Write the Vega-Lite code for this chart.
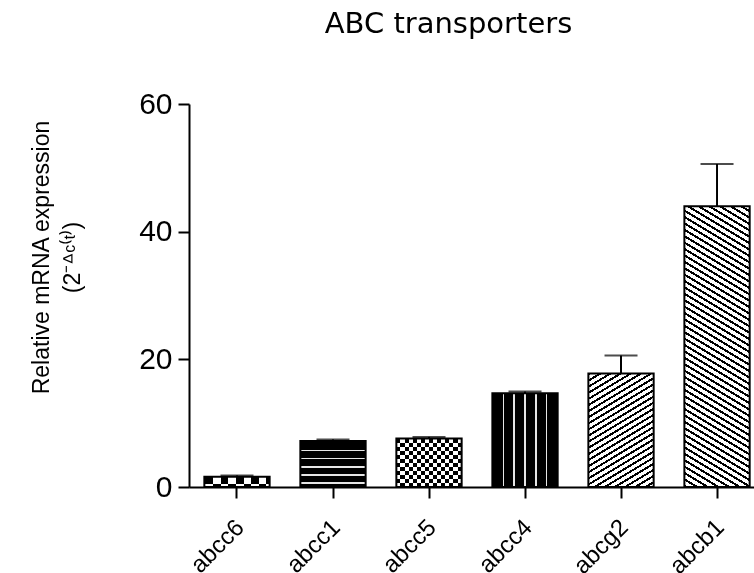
{
  "$schema": "https://vega.github.io/schema/vega-lite/v6.json",
  "autosize": "none",
  "width": 565,
  "height": 383,
  "padding": {"left": 189, "top": 104, "right": 0, "bottom": 86},
  "background": "white",
  "title": {
    "text": "ABC transporters",
    "font": "DejaVu Sans",
    "fontSize": 29,
    "fontWeight": "normal",
    "color": "#000",
    "anchor": "middle",
    "frame": "group",
    "dx": -23,
    "offset": 50
  },
  "config": {
    "view": {"stroke": null},
    "axis": {
      "domainColor": "#000",
      "domainWidth": 2,
      "tickColor": "#000",
      "tickWidth": 2,
      "tickSize": 11,
      "labelColor": "#000",
      "labelFont": "Liberation Sans",
      "titleFont": "Liberation Sans",
      "titleColor": "#000",
      "grid": false
    }
  },
  "data": {
    "values": [
      {"gene": "abcc6", "value": 1.6, "upper": 1.8},
      {"gene": "abcc1", "value": 7.2, "upper": 7.45},
      {"gene": "abcc5", "value": 7.6, "upper": 7.85},
      {"gene": "abcc4", "value": 14.7, "upper": 14.95},
      {"gene": "abcg2", "value": 17.8, "upper": 20.6},
      {"gene": "abcb1", "value": 44.0, "upper": 50.6}
    ]
  },
  "encoding": {
    "x": {
      "field": "gene",
      "type": "nominal",
      "sort": null,
      "scale": {"domain": ["abcc6", "abcc1", "abcc5", "abcc4", "abcg2", "abcb1"], "paddingInner": 0.32, "paddingOuter": 0.1025, "align": 0.78},
      "axis": {"title": null, "labelAngle": -45, "labelFontSize": 24, "labelPadding": 17, "labelOffset": -5}
    },
    "y": {
      "field": "value",
      "type": "quantitative",
      "scale": {"domain": [0, 60], "nice": false},
      "axis": {
        "values": [0, 20, 40, 60],
        "labelFontSize": 30,
        "labelPadding": 6,
        "title": ["Relative mRNA expression", "(2⁻ᐞᶜ⁽ᵗ⁾)"],
        "titleFontSize": 23,
        "titleFontWeight": "normal",
        "titleLineHeight": 31,
        "titleAngle": -90,
        "titleAlign": "center",
        "titleBaseline": "middle",
        "titleX": -148,
        "titleY": 153
      }
    }
  },
  "layer": [
    {
      "transform": [{"filter": "datum.gene === 'abcc6'"}],
      "mark": {"type": "bar", "strokeWidth": 0, "fill": {"gradient": "linear", "x1": 0, "y1": 0, "x2": 1, "y2": 0, "stops": [
        {"offset": 0, "color": "#000"}, {"offset": 0.136, "color": "#000"}, {"offset": 0.136, "color": "#fff"}, {"offset": 0.252, "color": "#fff"},
        {"offset": 0.252, "color": "#000"}, {"offset": 0.368, "color": "#000"}, {"offset": 0.368, "color": "#fff"}, {"offset": 0.484, "color": "#fff"},
        {"offset": 0.484, "color": "#000"}, {"offset": 0.6, "color": "#000"}, {"offset": 0.6, "color": "#fff"}, {"offset": 0.716, "color": "#fff"},
        {"offset": 0.716, "color": "#000"}, {"offset": 0.832, "color": "#000"}, {"offset": 0.832, "color": "#fff"}, {"offset": 0.948, "color": "#fff"},
        {"offset": 0.948, "color": "#000"}, {"offset": 1, "color": "#000"}
      ]}}
    },
    {
      "transform": [{"filter": "datum.gene === 'abcc6'"}],
      "mark": {"type": "bar", "strokeWidth": 0, "blend": "difference", "fill": {"gradient": "linear", "x1": 0, "y1": 0, "x2": 0, "y2": 1, "stops": [
        {"offset": 0, "color": "#000"}, {"offset": 0.75, "color": "#000"}, {"offset": 0.75, "color": "#fff"}, {"offset": 1, "color": "#fff"}
      ]}}
    },
    {
      "transform": [{"filter": "datum.gene === 'abcc5'"}],
      "mark": {"type": "bar", "strokeWidth": 0, "fill": {"gradient": "linear", "x1": 0, "y1": 0, "x2": 1, "y2": 0, "stops": [
        {"offset": 0, "color": "#000"}, {"offset": 0.0625, "color": "#000"}, {"offset": 0.0625, "color": "#fff"}, {"offset": 0.125, "color": "#fff"},
        {"offset": 0.125, "color": "#000"}, {"offset": 0.1875, "color": "#000"}, {"offset": 0.1875, "color": "#fff"}, {"offset": 0.25, "color": "#fff"},
        {"offset": 0.25, "color": "#000"}, {"offset": 0.3125, "color": "#000"}, {"offset": 0.3125, "color": "#fff"}, {"offset": 0.375, "color": "#fff"},
        {"offset": 0.375, "color": "#000"}, {"offset": 0.4375, "color": "#000"}, {"offset": 0.4375, "color": "#fff"}, {"offset": 0.5, "color": "#fff"},
        {"offset": 0.5, "color": "#000"}, {"offset": 0.5625, "color": "#000"}, {"offset": 0.5625, "color": "#fff"}, {"offset": 0.625, "color": "#fff"},
        {"offset": 0.625, "color": "#000"}, {"offset": 0.6875, "color": "#000"}, {"offset": 0.6875, "color": "#fff"}, {"offset": 0.75, "color": "#fff"},
        {"offset": 0.75, "color": "#000"}, {"offset": 0.8125, "color": "#000"}, {"offset": 0.8125, "color": "#fff"}, {"offset": 0.875, "color": "#fff"},
        {"offset": 0.875, "color": "#000"}, {"offset": 0.9375, "color": "#000"}, {"offset": 0.9375, "color": "#fff"}, {"offset": 1, "color": "#fff"}
      ]}}
    },
    {
      "transform": [{"filter": "datum.gene === 'abcc5'"}],
      "mark": {"type": "bar", "strokeWidth": 0, "blend": "difference", "fill": {"gradient": "linear", "x1": 0, "y1": 0, "x2": 0, "y2": 1, "stops": [
        {"offset": 0, "color": "#000"}, {"offset": 0.0833, "color": "#000"}, {"offset": 0.0833, "color": "#fff"}, {"offset": 0.1667, "color": "#fff"},
        {"offset": 0.1667, "color": "#000"}, {"offset": 0.25, "color": "#000"}, {"offset": 0.25, "color": "#fff"}, {"offset": 0.3333, "color": "#fff"},
        {"offset": 0.3333, "color": "#000"}, {"offset": 0.4167, "color": "#000"}, {"offset": 0.4167, "color": "#fff"}, {"offset": 0.5, "color": "#fff"},
        {"offset": 0.5, "color": "#000"}, {"offset": 0.5833, "color": "#000"}, {"offset": 0.5833, "color": "#fff"}, {"offset": 0.6667, "color": "#fff"},
        {"offset": 0.6667, "color": "#000"}, {"offset": 0.75, "color": "#000"}, {"offset": 0.75, "color": "#fff"}, {"offset": 0.8333, "color": "#fff"},
        {"offset": 0.8333, "color": "#000"}, {"offset": 0.9167, "color": "#000"}, {"offset": 0.9167, "color": "#fff"}, {"offset": 1, "color": "#fff"}
      ]}}
    },
    {
      "transform": [{"filter": "datum.gene === 'abcc1'"}],
      "mark": {"type": "bar", "strokeWidth": 0, "fill": {"gradient": "linear", "x1": 0, "y1": 0, "x2": 0, "y2": 1, "stops": [
        {"offset": 0, "color": "#000"}, {"offset": 0.188, "color": "#000"}, {"offset": 0.188, "color": "#e6e6e6"}, {"offset": 0.218, "color": "#e6e6e6"},
        {"offset": 0.218, "color": "#000"}, {"offset": 0.362, "color": "#000"}, {"offset": 0.362, "color": "#e6e6e6"}, {"offset": 0.392, "color": "#e6e6e6"},
        {"offset": 0.392, "color": "#000"}, {"offset": 0.55, "color": "#000"}, {"offset": 0.55, "color": "#e6e6e6"}, {"offset": 0.58, "color": "#e6e6e6"},
        {"offset": 0.58, "color": "#000"}, {"offset": 0.724, "color": "#000"}, {"offset": 0.724, "color": "#e6e6e6"}, {"offset": 0.754, "color": "#e6e6e6"},
        {"offset": 0.754, "color": "#000"}, {"offset": 0.898, "color": "#000"}, {"offset": 0.898, "color": "#e6e6e6"}, {"offset": 0.928, "color": "#e6e6e6"},
        {"offset": 0.928, "color": "#000"}, {"offset": 1, "color": "#000"}
      ]}}
    },
    {
      "transform": [{"filter": "datum.gene === 'abcc4'"}],
      "mark": {"type": "bar", "strokeWidth": 0, "fill": {"gradient": "linear", "x1": 0, "y1": 0, "x2": 1, "y2": 0, "stops": [
        {"offset": 0, "color": "#000"}, {"offset": 0.157, "color": "#000"}, {"offset": 0.157, "color": "#e6e6e6"}, {"offset": 0.183, "color": "#e6e6e6"},
        {"offset": 0.183, "color": "#000"}, {"offset": 0.317, "color": "#000"}, {"offset": 0.317, "color": "#e6e6e6"}, {"offset": 0.343, "color": "#e6e6e6"},
        {"offset": 0.343, "color": "#000"}, {"offset": 0.487, "color": "#000"}, {"offset": 0.487, "color": "#e6e6e6"}, {"offset": 0.513, "color": "#e6e6e6"},
        {"offset": 0.513, "color": "#000"}, {"offset": 0.657, "color": "#000"}, {"offset": 0.657, "color": "#e6e6e6"}, {"offset": 0.683, "color": "#e6e6e6"},
        {"offset": 0.683, "color": "#000"}, {"offset": 0.817, "color": "#000"}, {"offset": 0.817, "color": "#e6e6e6"}, {"offset": 0.843, "color": "#e6e6e6"},
        {"offset": 0.843, "color": "#000"}, {"offset": 1, "color": "#000"}
      ]}}
    },
    {
      "transform": [{"filter": "datum.gene === 'abcg2'"}],
      "mark": {"type": "bar", "strokeWidth": 0, "fill": {"gradient": "linear", "x1": 0, "y1": 0, "x2": 0.4149, "y2": 1.2019, "stops": [
        {"offset": 0, "color": "#000"}, {"offset": 0.0152, "color": "#000"}, {"offset": 0.0152, "color": "#fff"}, {"offset": 0.04, "color": "#fff"},
        {"offset": 0.04, "color": "#000"}, {"offset": 0.0552, "color": "#000"}, {"offset": 0.0552, "color": "#fff"}, {"offset": 0.08, "color": "#fff"},
        {"offset": 0.08, "color": "#000"}, {"offset": 0.0952, "color": "#000"}, {"offset": 0.0952, "color": "#fff"}, {"offset": 0.12, "color": "#fff"},
        {"offset": 0.12, "color": "#000"}, {"offset": 0.1352, "color": "#000"}, {"offset": 0.1352, "color": "#fff"}, {"offset": 0.16, "color": "#fff"},
        {"offset": 0.16, "color": "#000"}, {"offset": 0.1752, "color": "#000"}, {"offset": 0.1752, "color": "#fff"}, {"offset": 0.2, "color": "#fff"},
        {"offset": 0.2, "color": "#000"}, {"offset": 0.2152, "color": "#000"}, {"offset": 0.2152, "color": "#fff"}, {"offset": 0.24, "color": "#fff"},
        {"offset": 0.24, "color": "#000"}, {"offset": 0.2552, "color": "#000"}, {"offset": 0.2552, "color": "#fff"}, {"offset": 0.28, "color": "#fff"},
        {"offset": 0.28, "color": "#000"}, {"offset": 0.2952, "color": "#000"}, {"offset": 0.2952, "color": "#fff"}, {"offset": 0.32, "color": "#fff"},
        {"offset": 0.32, "color": "#000"}, {"offset": 0.3352, "color": "#000"}, {"offset": 0.3352, "color": "#fff"}, {"offset": 0.36, "color": "#fff"},
        {"offset": 0.36, "color": "#000"}, {"offset": 0.3752, "color": "#000"}, {"offset": 0.3752, "color": "#fff"}, {"offset": 0.4, "color": "#fff"},
        {"offset": 0.4, "color": "#000"}, {"offset": 0.4152, "color": "#000"}, {"offset": 0.4152, "color": "#fff"}, {"offset": 0.44, "color": "#fff"},
        {"offset": 0.44, "color": "#000"}, {"offset": 0.4552, "color": "#000"}, {"offset": 0.4552, "color": "#fff"}, {"offset": 0.48, "color": "#fff"},
        {"offset": 0.48, "color": "#000"}, {"offset": 0.4952, "color": "#000"}, {"offset": 0.4952, "color": "#fff"}, {"offset": 0.52, "color": "#fff"},
        {"offset": 0.52, "color": "#000"}, {"offset": 0.5352, "color": "#000"}, {"offset": 0.5352, "color": "#fff"}, {"offset": 0.56, "color": "#fff"},
        {"offset": 0.56, "color": "#000"}, {"offset": 0.5752, "color": "#000"}, {"offset": 0.5752, "color": "#fff"}, {"offset": 0.6, "color": "#fff"},
        {"offset": 0.6, "color": "#000"}, {"offset": 0.6152, "color": "#000"}, {"offset": 0.6152, "color": "#fff"}, {"offset": 0.64, "color": "#fff"},
        {"offset": 0.64, "color": "#000"}, {"offset": 0.6552, "color": "#000"}, {"offset": 0.6552, "color": "#fff"}, {"offset": 0.68, "color": "#fff"},
        {"offset": 0.68, "color": "#000"}, {"offset": 0.6952, "color": "#000"}, {"offset": 0.6952, "color": "#fff"}, {"offset": 0.72, "color": "#fff"},
        {"offset": 0.72, "color": "#000"}, {"offset": 0.7352, "color": "#000"}, {"offset": 0.7352, "color": "#fff"}, {"offset": 0.76, "color": "#fff"},
        {"offset": 0.76, "color": "#000"}, {"offset": 0.7752, "color": "#000"}, {"offset": 0.7752, "color": "#fff"}, {"offset": 0.8, "color": "#fff"},
        {"offset": 0.8, "color": "#000"}, {"offset": 0.8152, "color": "#000"}, {"offset": 0.8152, "color": "#fff"}, {"offset": 0.84, "color": "#fff"},
        {"offset": 0.84, "color": "#000"}, {"offset": 0.8552, "color": "#000"}, {"offset": 0.8552, "color": "#fff"}, {"offset": 0.88, "color": "#fff"},
        {"offset": 0.88, "color": "#000"}, {"offset": 0.8952, "color": "#000"}, {"offset": 0.8952, "color": "#fff"}, {"offset": 0.92, "color": "#fff"},
        {"offset": 0.92, "color": "#000"}, {"offset": 0.9352, "color": "#000"}, {"offset": 0.9352, "color": "#fff"}, {"offset": 0.96, "color": "#fff"},
        {"offset": 0.96, "color": "#000"}, {"offset": 0.9752, "color": "#000"}, {"offset": 0.9752, "color": "#fff"}, {"offset": 1, "color": "#fff"}
      ]}}
    },
    {
      "transform": [{"filter": "datum.gene === 'abcb1'"}],
      "mark": {"type": "bar", "strokeWidth": 0, "fill": {"gradient": "linear", "x1": 0, "y1": 1, "x2": 0.156, "y2": -0.1178, "stops": [
        {"offset": 0, "color": "#000"}, {"offset": 0.0076, "color": "#000"}, {"offset": 0.0076, "color": "#fff"}, {"offset": 0.02, "color": "#fff"},
        {"offset": 0.02, "color": "#000"}, {"offset": 0.0276, "color": "#000"}, {"offset": 0.0276, "color": "#fff"}, {"offset": 0.04, "color": "#fff"},
        {"offset": 0.04, "color": "#000"}, {"offset": 0.0476, "color": "#000"}, {"offset": 0.0476, "color": "#fff"}, {"offset": 0.06, "color": "#fff"},
        {"offset": 0.06, "color": "#000"}, {"offset": 0.0676, "color": "#000"}, {"offset": 0.0676, "color": "#fff"}, {"offset": 0.08, "color": "#fff"},
        {"offset": 0.08, "color": "#000"}, {"offset": 0.0876, "color": "#000"}, {"offset": 0.0876, "color": "#fff"}, {"offset": 0.1, "color": "#fff"},
        {"offset": 0.1, "color": "#000"}, {"offset": 0.1076, "color": "#000"}, {"offset": 0.1076, "color": "#fff"}, {"offset": 0.12, "color": "#fff"},
        {"offset": 0.12, "color": "#000"}, {"offset": 0.1276, "color": "#000"}, {"offset": 0.1276, "color": "#fff"}, {"offset": 0.14, "color": "#fff"},
        {"offset": 0.14, "color": "#000"}, {"offset": 0.1476, "color": "#000"}, {"offset": 0.1476, "color": "#fff"}, {"offset": 0.16, "color": "#fff"},
        {"offset": 0.16, "color": "#000"}, {"offset": 0.1676, "color": "#000"}, {"offset": 0.1676, "color": "#fff"}, {"offset": 0.18, "color": "#fff"},
        {"offset": 0.18, "color": "#000"}, {"offset": 0.1876, "color": "#000"}, {"offset": 0.1876, "color": "#fff"}, {"offset": 0.2, "color": "#fff"},
        {"offset": 0.2, "color": "#000"}, {"offset": 0.2076, "color": "#000"}, {"offset": 0.2076, "color": "#fff"}, {"offset": 0.22, "color": "#fff"},
        {"offset": 0.22, "color": "#000"}, {"offset": 0.2276, "color": "#000"}, {"offset": 0.2276, "color": "#fff"}, {"offset": 0.24, "color": "#fff"},
        {"offset": 0.24, "color": "#000"}, {"offset": 0.2476, "color": "#000"}, {"offset": 0.2476, "color": "#fff"}, {"offset": 0.26, "color": "#fff"},
        {"offset": 0.26, "color": "#000"}, {"offset": 0.2676, "color": "#000"}, {"offset": 0.2676, "color": "#fff"}, {"offset": 0.28, "color": "#fff"},
        {"offset": 0.28, "color": "#000"}, {"offset": 0.2876, "color": "#000"}, {"offset": 0.2876, "color": "#fff"}, {"offset": 0.3, "color": "#fff"},
        {"offset": 0.3, "color": "#000"}, {"offset": 0.3076, "color": "#000"}, {"offset": 0.3076, "color": "#fff"}, {"offset": 0.32, "color": "#fff"},
        {"offset": 0.32, "color": "#000"}, {"offset": 0.3276, "color": "#000"}, {"offset": 0.3276, "color": "#fff"}, {"offset": 0.34, "color": "#fff"},
        {"offset": 0.34, "color": "#000"}, {"offset": 0.3476, "color": "#000"}, {"offset": 0.3476, "color": "#fff"}, {"offset": 0.36, "color": "#fff"},
        {"offset": 0.36, "color": "#000"}, {"offset": 0.3676, "color": "#000"}, {"offset": 0.3676, "color": "#fff"}, {"offset": 0.38, "color": "#fff"},
        {"offset": 0.38, "color": "#000"}, {"offset": 0.3876, "color": "#000"}, {"offset": 0.3876, "color": "#fff"}, {"offset": 0.4, "color": "#fff"},
        {"offset": 0.4, "color": "#000"}, {"offset": 0.4076, "color": "#000"}, {"offset": 0.4076, "color": "#fff"}, {"offset": 0.42, "color": "#fff"},
        {"offset": 0.42, "color": "#000"}, {"offset": 0.4276, "color": "#000"}, {"offset": 0.4276, "color": "#fff"}, {"offset": 0.44, "color": "#fff"},
        {"offset": 0.44, "color": "#000"}, {"offset": 0.4476, "color": "#000"}, {"offset": 0.4476, "color": "#fff"}, {"offset": 0.46, "color": "#fff"},
        {"offset": 0.46, "color": "#000"}, {"offset": 0.4676, "color": "#000"}, {"offset": 0.4676, "color": "#fff"}, {"offset": 0.48, "color": "#fff"},
        {"offset": 0.48, "color": "#000"}, {"offset": 0.4876, "color": "#000"}, {"offset": 0.4876, "color": "#fff"}, {"offset": 0.5, "color": "#fff"},
        {"offset": 0.5, "color": "#000"}, {"offset": 0.5076, "color": "#000"}, {"offset": 0.5076, "color": "#fff"}, {"offset": 0.52, "color": "#fff"},
        {"offset": 0.52, "color": "#000"}, {"offset": 0.5276, "color": "#000"}, {"offset": 0.5276, "color": "#fff"}, {"offset": 0.54, "color": "#fff"},
        {"offset": 0.54, "color": "#000"}, {"offset": 0.5476, "color": "#000"}, {"offset": 0.5476, "color": "#fff"}, {"offset": 0.56, "color": "#fff"},
        {"offset": 0.56, "color": "#000"}, {"offset": 0.5676, "color": "#000"}, {"offset": 0.5676, "color": "#fff"}, {"offset": 0.58, "color": "#fff"},
        {"offset": 0.58, "color": "#000"}, {"offset": 0.5876, "color": "#000"}, {"offset": 0.5876, "color": "#fff"}, {"offset": 0.6, "color": "#fff"},
        {"offset": 0.6, "color": "#000"}, {"offset": 0.6076, "color": "#000"}, {"offset": 0.6076, "color": "#fff"}, {"offset": 0.62, "color": "#fff"},
        {"offset": 0.62, "color": "#000"}, {"offset": 0.6276, "color": "#000"}, {"offset": 0.6276, "color": "#fff"}, {"offset": 0.64, "color": "#fff"},
        {"offset": 0.64, "color": "#000"}, {"offset": 0.6476, "color": "#000"}, {"offset": 0.6476, "color": "#fff"}, {"offset": 0.66, "color": "#fff"},
        {"offset": 0.66, "color": "#000"}, {"offset": 0.6676, "color": "#000"}, {"offset": 0.6676, "color": "#fff"}, {"offset": 0.68, "color": "#fff"},
        {"offset": 0.68, "color": "#000"}, {"offset": 0.6876, "color": "#000"}, {"offset": 0.6876, "color": "#fff"}, {"offset": 0.7, "color": "#fff"},
        {"offset": 0.7, "color": "#000"}, {"offset": 0.7076, "color": "#000"}, {"offset": 0.7076, "color": "#fff"}, {"offset": 0.72, "color": "#fff"},
        {"offset": 0.72, "color": "#000"}, {"offset": 0.7276, "color": "#000"}, {"offset": 0.7276, "color": "#fff"}, {"offset": 0.74, "color": "#fff"},
        {"offset": 0.74, "color": "#000"}, {"offset": 0.7476, "color": "#000"}, {"offset": 0.7476, "color": "#fff"}, {"offset": 0.76, "color": "#fff"},
        {"offset": 0.76, "color": "#000"}, {"offset": 0.7676, "color": "#000"}, {"offset": 0.7676, "color": "#fff"}, {"offset": 0.78, "color": "#fff"},
        {"offset": 0.78, "color": "#000"}, {"offset": 0.7876, "color": "#000"}, {"offset": 0.7876, "color": "#fff"}, {"offset": 0.8, "color": "#fff"},
        {"offset": 0.8, "color": "#000"}, {"offset": 0.8076, "color": "#000"}, {"offset": 0.8076, "color": "#fff"}, {"offset": 0.82, "color": "#fff"},
        {"offset": 0.82, "color": "#000"}, {"offset": 0.8276, "color": "#000"}, {"offset": 0.8276, "color": "#fff"}, {"offset": 0.84, "color": "#fff"},
        {"offset": 0.84, "color": "#000"}, {"offset": 0.8476, "color": "#000"}, {"offset": 0.8476, "color": "#fff"}, {"offset": 0.86, "color": "#fff"},
        {"offset": 0.86, "color": "#000"}, {"offset": 0.8676, "color": "#000"}, {"offset": 0.8676, "color": "#fff"}, {"offset": 0.88, "color": "#fff"},
        {"offset": 0.88, "color": "#000"}, {"offset": 0.8876, "color": "#000"}, {"offset": 0.8876, "color": "#fff"}, {"offset": 0.9, "color": "#fff"},
        {"offset": 0.9, "color": "#000"}, {"offset": 0.9076, "color": "#000"}, {"offset": 0.9076, "color": "#fff"}, {"offset": 0.92, "color": "#fff"},
        {"offset": 0.92, "color": "#000"}, {"offset": 0.9276, "color": "#000"}, {"offset": 0.9276, "color": "#fff"}, {"offset": 0.94, "color": "#fff"},
        {"offset": 0.94, "color": "#000"}, {"offset": 0.9476, "color": "#000"}, {"offset": 0.9476, "color": "#fff"}, {"offset": 0.96, "color": "#fff"},
        {"offset": 0.96, "color": "#000"}, {"offset": 0.9676, "color": "#000"}, {"offset": 0.9676, "color": "#fff"}, {"offset": 0.98, "color": "#fff"},
        {"offset": 0.98, "color": "#000"}, {"offset": 0.9876, "color": "#000"}, {"offset": 0.9876, "color": "#fff"}, {"offset": 1, "color": "#fff"}
      ]}}
    },
    {
      "mark": {"type": "bar", "fillOpacity": 0, "stroke": "#000", "strokeWidth": 2}
    },
    {
      "mark": {"type": "rule", "color": "#000", "strokeWidth": 2},
      "encoding": {"y2": {"field": "upper"}}
    },
    {
      "mark": {"type": "tick", "color": "#000", "size": 33, "thickness": 2},
      "encoding": {"y": {"field": "upper", "type": "quantitative"}}
    }
  ]
}
